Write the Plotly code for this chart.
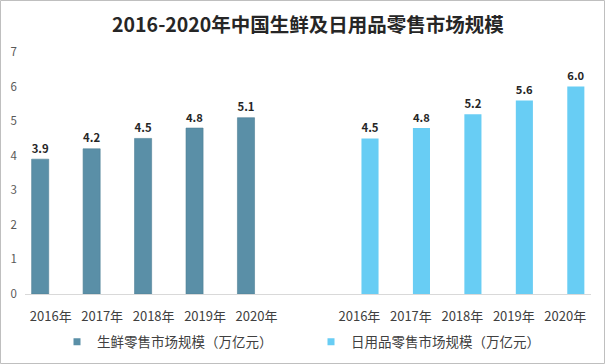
import plotly.graph_objects as go

years = ["2016年", "2017年", "2018年", "2019年", "2020年"]
fresh = [3.9, 4.2, 4.5, 4.8, 5.1]
daily = [4.5, 4.8, 5.2, 5.6, 6.0]
fresh_name = "生鲜零售市场规模（万亿元）"
daily_name = "日用品零售市场规模（万亿元）"
title = "2016-2020年中国生鲜及日用品零售市场规模"

n = len(years)
gap = 1
x_all = list(range(2 * n + gap))
y_fresh = fresh + [None] * (n + gap)
y_daily = [None] * (n + gap) + daily
tickvals = list(range(n)) + [i + n + gap for i in range(n)]
ticktext = years + years

W, H = 605, 364
ml, mr, mt, mb = 25, 14, 52, 70
c_fresh, c_daily = "#5A8FA7", "#68CDF4"

lab_font = dict(family="Noto Sans CJK SC", size=13, color="#262626", weight="bold")

fig = go.Figure()
fig.add_trace(go.Bar(x=x_all, y=y_fresh, name=fresh_name, showlegend=False,
                     marker=dict(color=c_fresh, line=dict(color="#4F7F95", width=0.6)),
                     text=[f"{v:.1f}" if v is not None else "" for v in y_fresh],
                     textposition="outside", textfont=lab_font, cliponaxis=False))
fig.add_trace(go.Bar(x=x_all, y=y_daily, name=daily_name, showlegend=False,
                     marker=dict(color=c_daily, line=dict(width=0)),
                     text=[f"{v:.1f}" if v is not None else "" for v in y_daily],
                     textposition="outside", textfont=lab_font, cliponaxis=False))
# legend entries with small square swatches
for nm, col in [(fresh_name, c_fresh), (daily_name, c_daily)]:
    fig.add_trace(go.Scatter(x=[None], y=[None], mode="markers", name=nm,
                             marker=dict(symbol="square", size=7, color=col)))

pw = W - ml - mr
ph = H - mt - mb
fig.add_shape(type="rect", xref="paper", yref="paper",
              x0=(0.5 - ml) / pw, x1=(W - ml - 0.5) / pw,
              y0=-(mb - 0.5) / ph, y1=1 + (mt - 0.5) / ph,
              line=dict(color="#BFBFBF", width=1), layer="below")

fig.update_layout(
    width=W, height=H,
    margin=dict(l=ml, r=mr, t=mt, b=mb, autoexpand=False),
    paper_bgcolor="white", plot_bgcolor="white",
    barmode="group", bargap=0.18, bargroupgap=0.19,
    title=dict(text=title, x=0.5, xref="paper", xanchor="center", y=1 - 25 / H, yanchor="middle",
               font=dict(family="Noto Sans CJK SC", size=19.5, color="#262626", weight="bold")),
    font=dict(family="Noto Sans CJK SC", size=12, color="#404040"),
    xaxis=dict(range=[-0.5, 2 * n + gap - 0.5], tickvals=tickvals, ticktext=ticktext,
               showgrid=False, zeroline=False, showline=True, linecolor="#D9D9D9", linewidth=1,
               ticks="", ticklabelstandoff=10, automargin=False,
               tickfont=dict(size=13, color="#404040")),
    yaxis=dict(range=[0, 7], dtick=1, showgrid=False, zeroline=False, showline=False,
               automargin=False, tickfont=dict(size=11.5, color="#595959"), ticklabelstandoff=7),
    legend=dict(orientation="h", x=(57 - ml) / pw, xanchor="left", y=-(mb - 22) / ph, yanchor="middle",
                font=dict(size=13.5, color="#404040"), entrywidth=209, itemwidth=30,
                traceorder="normal"),
    showlegend=True,
)

fig.write_html("out.html", config={"displayModeBar": False},
               post_script="document.body.style.margin='0';")
